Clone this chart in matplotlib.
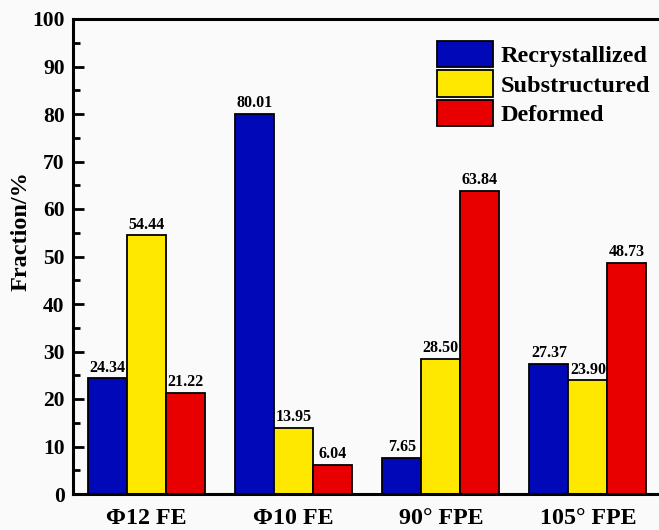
import numpy as np
import matplotlib
matplotlib.use("Agg")
import matplotlib.pyplot as plt
from matplotlib.ticker import MultipleLocator

# Grain structure fractions (%) for each processing route
categories = ["Φ12 FE", "Φ10 FE", "90° FPE", "105° FPE"]
series_names = ["Recrystallized", "Substructured", "Deformed"]
recrystallized = [24.34, 80.01, 7.65, 27.37]
substructured = [54.44, 13.95, 28.50, 23.90]
deformed = [21.22, 6.04, 63.84, 48.73]
colors = ["#0008B8", "#FFE800", "#E80000"]

plt.rcParams["font.family"] = ["Liberation Serif", "DejaVu Serif"]
plt.rcParams["font.weight"] = "bold"

fig = plt.figure(figsize=(6.59, 5.30), dpi=100, facecolor="#fafafa")
ax = fig.add_axes([73 / 659, 1 - 494 / 530, (661.5 - 73) / 659, (494 - 19) / 530])
ax.set_facecolor("#fafafa")

x = np.arange(len(categories))
width = 0.265
offsets = [-width, 0, width]
for vals, name, col, off in zip([recrystallized, substructured, deformed],
                                series_names, colors, offsets):
    bars = ax.bar(x + off, vals, width, color=col, edgecolor="black",
                  linewidth=1.3, label=name)
    for b, v in zip(bars, vals):
        ax.text(b.get_x() + b.get_width() / 2, v + 0.6, f"{v:.2f}",
                ha="center", va="bottom", fontsize=11.5, fontweight="bold")

ax.set_xlim(-0.5, 3.5)
ax.set_ylim(0, 100)
ax.set_xticks(x)
ax.set_xticklabels(categories, fontsize=17.3, fontweight="bold")
ax.tick_params(axis="x", length=0, pad=10)
ax.yaxis.set_major_locator(MultipleLocator(10))
ax.yaxis.set_minor_locator(MultipleLocator(5))
ax.tick_params(axis="y", which="major", direction="in", length=8, width=2,
               labelsize=15.5, pad=6)
ax.tick_params(axis="y", which="minor", direction="in", length=5, width=2)
for lbl in ax.get_yticklabels():
    lbl.set_fontweight("bold")
ax.set_ylabel("Fraction/%", fontsize=17.5, fontweight="bold")
ax.yaxis.set_label_coords(-0.071, 0.554)
for s in ax.spines.values():
    s.set_linewidth(2.2)

ax.legend(loc="upper left", bbox_to_anchor=((437 - 73) / (661.5 - 73), 1 - (41 - 19) / 475),
          frameon=False, handlelength=2.3, handleheight=1.3,
          handletextpad=0.33, labelspacing=0.12, borderaxespad=0, borderpad=0,
          prop={"weight": "bold", "size": 17.5})

fig.savefig("out.png", dpi=100, facecolor=fig.get_facecolor())
